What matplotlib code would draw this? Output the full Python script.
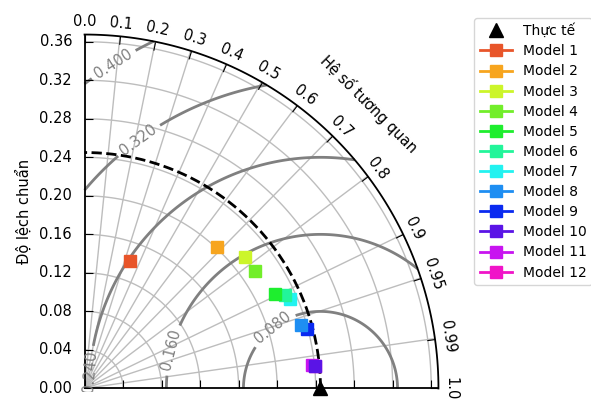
import numpy as np
import matplotlib
matplotlib.use("Agg")
import matplotlib.pyplot as plt
from matplotlib.projections import PolarAxes
import mpl_toolkits.axisartist.floating_axes as FA
import mpl_toolkits.axisartist.grid_finder as GF

# ---------------- data ----------------
ref_label = "Thực tế"
ref_std = 0.245
model_names = ["Model 1", "Model 2", "Model 3", "Model 4", "Model 5", "Model 6",
               "Model 7", "Model 8", "Model 9", "Model 10", "Model 11", "Model 12"]
model_std = [0.141, 0.201, 0.215, 0.215, 0.221, 0.230,
             0.233, 0.234, 0.239, 0.240, 0.237, 0.240]
model_corr = [0.335, 0.682, 0.774, 0.824, 0.895, 0.907,
              0.9175, 0.959, 0.9666, 0.9953, 0.9947, 0.9953]
model_colors = ["#e8552a", "#f7a51e", "#ccf52a", "#72ee2a", "#1eee2e", "#22f59a",
                "#22f2f0", "#1e8ef2", "#0a2af0", "#5a14e6", "#c814f0", "#f014c8"]
corr_ticks = [0.0, 0.1, 0.2, 0.3, 0.4, 0.5, 0.6, 0.7, 0.8, 0.9, 0.95, 0.99, 1.0]
std_ticks = [0.0, 0.04, 0.08, 0.12, 0.16, 0.20, 0.24, 0.28, 0.32, 0.36]
rms_levels = [0.08, 0.16, 0.24, 0.32, 0.40]
corr_label = "Hệ số tương quan"
std_label = "Độ lệch chuẩn"

smax = 1.5 * ref_std

# ---------------- figure ----------------
fig = plt.figure(figsize=(5.91, 4.03), dpi=100)
tr = PolarAxes.PolarTransform(apply_theta_transforms=False)

tlocs = np.arccos(corr_ticks)
gl1 = GF.FixedLocator(tlocs)
tf1 = GF.DictFormatter(dict(zip(tlocs, [str(c) for c in corr_ticks])))
gl2 = GF.FixedLocator(std_ticks)
tf2 = GF.DictFormatter({s: f"{s:.2f}" for s in std_ticks})

gh = FA.GridHelperCurveLinear(tr, extremes=(0, np.pi / 2, 0, smax),
                              grid_locator1=gl1, tick_formatter1=tf1,
                              grid_locator2=gl2, tick_formatter2=tf2)

W, H = 591, 403
ox, oy, R = 81, 392, 361
ax = FA.FloatingAxes(fig, [ox / W, (H - oy) / H, R / W, R / H], grid_helper=gh)
fig.add_axes(ax)

fs = 10.5
# arc axis (correlation)
ax.axis["top"].set_axis_direction("bottom")
ax.axis["top"].toggle(ticklabels=True, label=True)
ax.axis["top"].major_ticklabels.set_axis_direction("top")
ax.axis["top"].label.set_axis_direction("top")
ax.axis["top"].label.set_text(corr_label)
ax.axis["top"].label.set_fontsize(fs)
ax.axis["top"].label.set_pad(14)
ax.axis["top"].major_ticklabels.set_fontsize(fs)
ax.axis["top"].major_ticklabels.set_pad(6)

# vertical axis (std)
ax.axis["right"].set_axis_direction("top")
ax.axis["right"].toggle(ticklabels=True, label=True)
ax.axis["right"].major_ticklabels.set_axis_direction("left")
ax.axis["right"].label.set_axis_direction("left")
ax.axis["right"].label.set_text(std_label)
ax.axis["right"].label.set_fontsize(fs)
ax.axis["right"].major_ticklabels.set_fontsize(fs)
ax.axis["right"].major_ticklabels.set_pad(9)

# horizontal axis
ax.axis["left"].set_axis_direction("bottom")
ax.axis["left"].toggle(ticklabels=False, label=False)
ax.axis["bottom"].set_visible(False)

for k in ["top", "right", "left"]:
    ax.axis[k].line.set_linewidth(1.3)
    ax.axis[k].major_ticks.set_ticksize(6)

ax.grid(True, color="#bdbdbd", linewidth=1.0)

pax = ax.get_aux_axes(tr)

# RMS contours
rs, ts = np.meshgrid(np.linspace(0, smax, 200), np.linspace(0, np.pi / 2, 200))
rms = np.sqrt(ref_std ** 2 + rs ** 2 - 2 * ref_std * rs * np.cos(ts))
cs = pax.contour(ts, rs, rms, rms_levels, colors="0.5", linewidths=2)
label_spots = [(0.272, 0.2085), (0.413, 0.099), (1.18, 0.0187),
               (1.352, 0.263), (1.476, 0.3355)]
ax.clabel(cs, inline=True, fontsize=10.5, fmt="%.3f", manual=label_spots)

# reference
t = np.linspace(0, np.pi / 2, 200)
pax.plot(t, np.full_like(t, ref_std), "k--", lw=2, zorder=4)
href, = pax.plot([0], [ref_std], "k^", ms=10, ls="", clip_on=False, zorder=20,
                 label=ref_label)

handles = [href]
n = len(model_names)
for i, (name, s, c, col) in enumerate(zip(model_names, model_std, model_corr, model_colors)):
    h, = pax.plot([np.arccos(c)], [s], marker="s", ms=9, ls="-", lw=2,
                  color=col, label=name, zorder=6 + (n - i) * 0.01)
    handles.append(h)

leg = fig.legend(handles, [h.get_label() for h in handles], loc="upper left",
                 bbox_to_anchor=(474 / W, 1 - 18 / H), fontsize=10,
                 labelspacing=0.44, handlelength=2.3, numpoints=1,
                 borderaxespad=0.0, fancybox=True)
leg.get_frame().set_edgecolor("#cccccc")

fig.savefig("out.png", dpi=100)
